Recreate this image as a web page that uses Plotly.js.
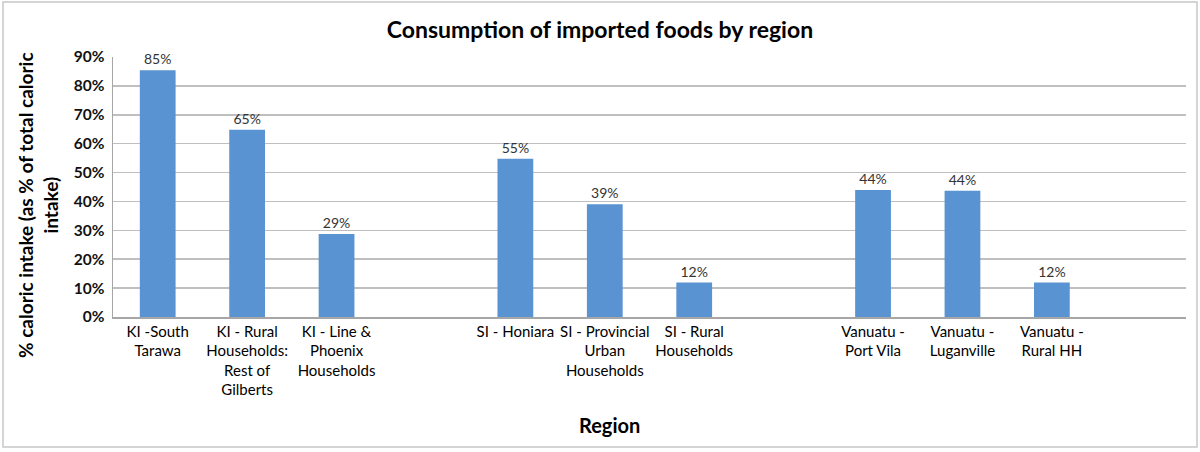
<!DOCTYPE html>
<html>
<head>
<meta charset="utf-8">
<script src="https://cdn.plot.ly/plotly-3.0.1.min.js"></script>
<style>html,body{margin:0;padding:0;background:#fff;}#chart{width:1200px;height:452px;}</style>
</head>
<body>
<div id="chart"></div>
<script>
// Data
const categories = [
  "KI -South<br>Tarawa",
  "KI - Rural<br>Households:<br>Rest of<br>Gilberts",
  "KI - Line &<br>Phoenix<br>Households",
  "SI - Honiara",
  "SI - Provincial<br>Urban<br>Households",
  "SI - Rural<br>Households",
  "Vanuatu -<br>Port Vila",
  "Vanuatu -<br>Luganville",
  "Vanuatu -<br>Rural HH"
];
const groups = ["KI","KI","KI","SI","SI","SI","VU","VU","VU"];
const values = [0.854, 0.648, 0.287, 0.548, 0.390, 0.119, 0.440, 0.437, 0.119];
const yTickVals = [0, 0.1, 0.2, 0.3, 0.4, 0.5, 0.6, 0.7, 0.8, 0.9];

// Build category order with an empty slot after each group
const order = [];
let spacer = 0;
categories.forEach((c, i) => {
  order.push(c);
  if (i === categories.length - 1 || groups[i + 1] !== groups[i]) {
    spacer += 1;
    order.push(" ".repeat(spacer));
  }
});

const font = "Lato, 'Open Sans', 'Liberation Sans', sans-serif";
const W = 1200, H = 452, L = 113, R = 14, T = 57, B = 135;
const pw = W - L - R, ph = H - T - B;
const px = x => (x - L) / pw;
const py = y => (H - B - y) / ph;

const trace = {
  type: "bar",
  x: categories,
  y: values,
  marker: { color: "#5A93D1", line: { width: 0 } },
  text: values.map(v => Math.round(v * 100) + "%"),
  textposition: "outside",
  cliponaxis: false,
  textfont: { family: font, size: 14, color: "#333" },
  hoverinfo: "x+y"
};

const layout = {
  width: W, height: H,
  margin: { l: L, r: R, t: T, b: B },
  paper_bgcolor: "#fff", plot_bgcolor: "#fff",
  showlegend: false,
  bargap: 0.6,
  title: {
    text: "<b>Consumption of imported foods by region</b>",
    font: { family: font, size: 23, color: "#000" },
    x: 0.5, xref: "container", xanchor: "center",
    y: 1 - 30 / H, yref: "container", yanchor: "middle"
  },
  xaxis: {
    type: "category",
    categoryorder: "array",
    categoryarray: order,
    range: [-0.5, order.length - 0.5],
    showgrid: false,
    showline: true, linecolor: "#A6A6A6", linewidth: 1.5,
    ticks: "",
    tickangle: 0,
    tickfont: { family: font, size: 15, color: "#000" },
    fixedrange: true
  },
  yaxis: {
    range: [0, 0.9],
    tickvals: yTickVals,
    tickformat: ".0%",
    showgrid: true, gridcolor: "#BFBFBF", gridwidth: 1.5,
    showline: true, linecolor: "#A6A6A6", linewidth: 1.5,
    zeroline: false,
    ticks: "",
    ticklabelstandoff: 4,
    tickfont: { family: font, size: 15.5, color: "#111", weight: "bold" },
    fixedrange: true
  },
  annotations: [
    {
      text: "<b>% caloric intake (as % of total caloric<br>intake)</b>",
      xref: "paper", yref: "paper",
      x: px(38), y: py(205),
      xanchor: "center", yanchor: "middle",
      textangle: -90, showarrow: false,
      font: { family: font, size: 19, color: "#000" }
    },
    {
      text: "<b>Region</b>",
      xref: "paper", yref: "paper",
      x: px(609), y: py(425),
      xanchor: "center", yanchor: "middle",
      showarrow: false,
      font: { family: font, size: 20, color: "#000" }
    }
  ],
  shapes: [
    {
      type: "rect", xref: "paper", yref: "paper",
      x0: px(3), x1: px(1197), y0: py(447), y1: py(2),
      line: { color: "#C8C8C8", width: 1.5 }, fillcolor: "rgba(0,0,0,0)",
      layer: "below"
    }
  ]
};

Plotly.newPlot("chart", [trace], layout, { displayModeBar: false, staticPlot: true });
</script>
</body>
</html>
